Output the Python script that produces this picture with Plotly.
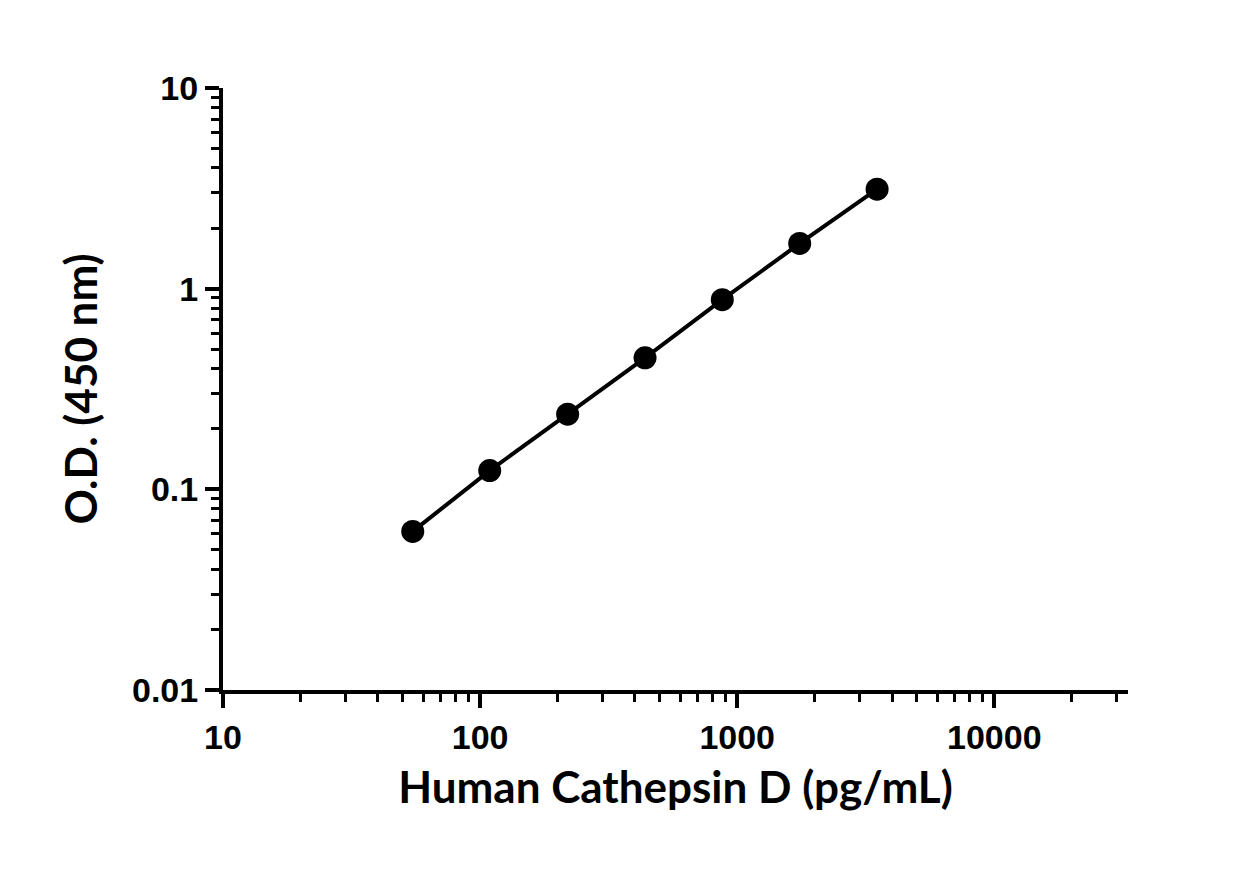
import plotly.graph_objects as go

conc = [54.7, 109, 219, 438, 875, 1750, 3500]
od = [0.0617, 0.124, 0.237, 0.452, 0.881, 1.68, 3.13]
xticks = [10, 100, 1000, 10000]
yticks = [0.01, 0.1, 1, 10]

fig = go.Figure(go.Scatter(x=conc, y=od, mode="lines+markers",
    line=dict(color="black", width=4), marker=dict(color="black", size=23)))

tickfont = dict(family="Liberation Sans Narrow, Arial Narrow, Liberation Sans", size=34, color="black", weight="bold")
common = dict(type="log", showline=True, linecolor="black", linewidth=4, ticks="outside",
    ticklen=14, tickwidth=4, tickcolor="black", showgrid=False, zeroline=False,
    tickfont=tickfont, minor=dict(ticks="outside", ticklen=8, tickwidth=3, tickcolor="black", dtick="D1"))

titlefont = dict(family="Lato, Noto Sans", size=44, color="black", weight="bold")
fig.update_xaxes(**common, range=[1, 4.52], tickvals=xticks, ticktext=[str(v) for v in xticks],
    title=dict(text="Human Cathepsin D (pg/mL)", font=titlefont, standoff=18))
fig.update_yaxes(**common, range=[-2, 1], tickvals=yticks, ticktext=["0.01", "0.1", "1", "10"],
    title=dict(text="O.D. (450 nm)", font=titlefont, standoff=22))

fig.update_layout(width=1250, height=869, margin=dict(l=215, r=130, t=80, b=187),
    plot_bgcolor="white", paper_bgcolor="white", showlegend=False)
fig.write_html("out.html")
